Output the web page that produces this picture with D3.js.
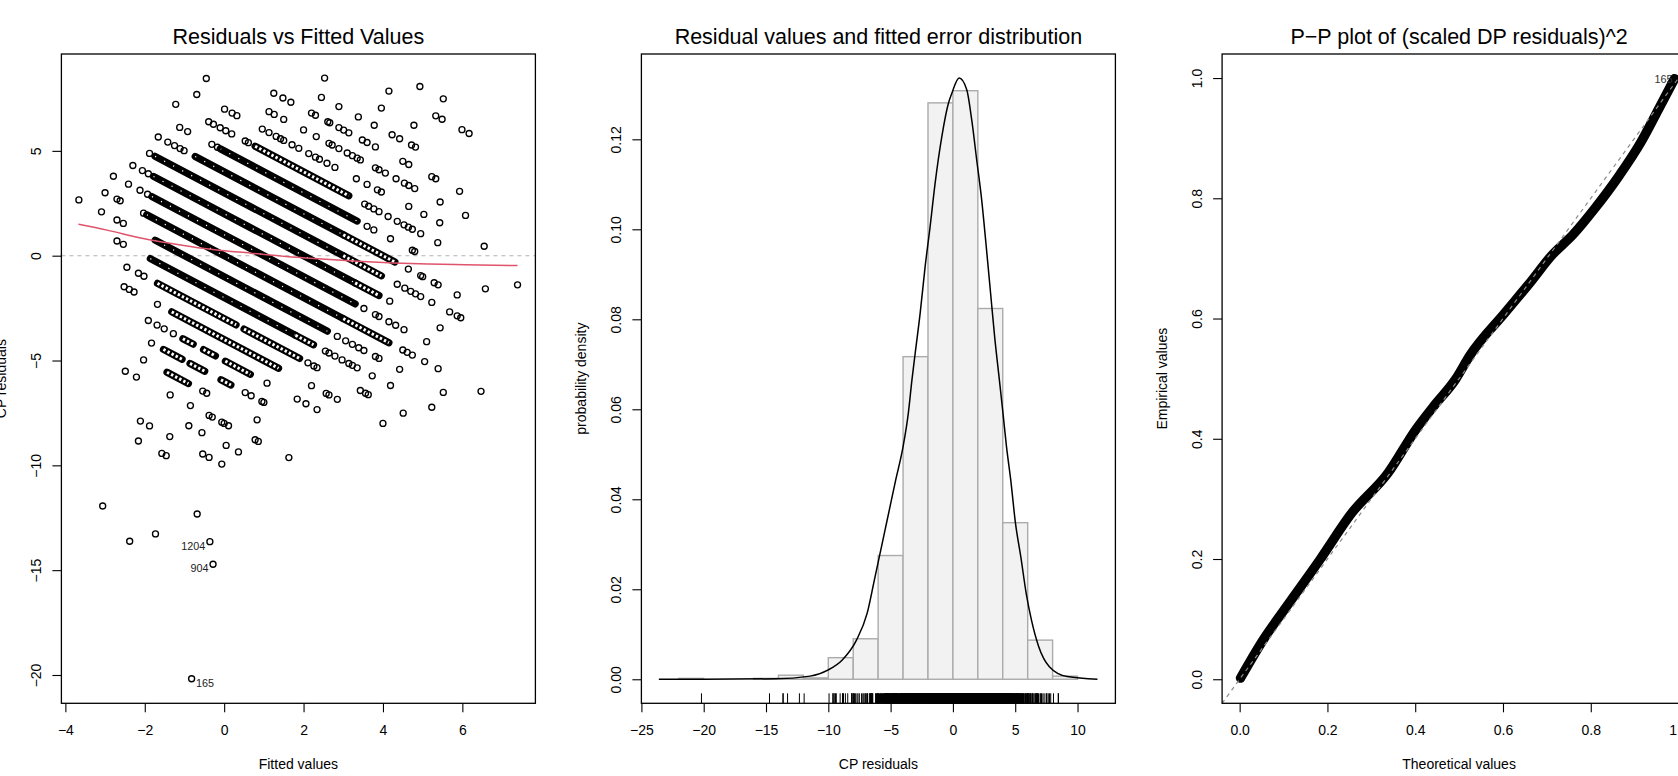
<!DOCTYPE html>
<html>
<head>
<meta charset="utf-8">
<script src="https://cdn.jsdelivr.net/npm/d3@7"></script>
<style>
body { margin: 0; background: #fff; }
svg { display: block; font-family: "Liberation Sans", Arial, sans-serif; }
</style>
</head>
<body>
<svg id="fig" width="1678" height="776"></svg>
<script>
// ---------- panel 1 : residuals vs fitted ----------
// every stripe is one observed CP value; a point sits at (fitted, observed - fitted)
const stripeObs = [13, 12, 11, 10, 9, 8, 7, 6, 5, 4, 3, 2, 1, 0, -1, -2, -3, -4, -5, -6, -7, -8, -9, -10, -11, -13, -14, -15, -16, -21];
const stripeFitted = [
    [4.93, 5.52],
    [4.15, 5.33, 5.49, 5.99, 6.17],
    [2.53, 3.96, 4.78],
    [2.45, 2.89, 3.38, 3.78, 4.23, 4.42, 4.72, 4.82],
    [1.25, 1.48, 1.68, 2.20, 2.30, 2.61, 2.66, 2.89, 3.01, 3.14, 3.48, 3.60, 3.81, 4.50, 4.65, 5.23, 5.33, 5.93],
    [-0.45, 1.13, 1.26, 1.50, 2.00, 2.32, 2.64, 2.72, 2.89, 3.10, 3.23, 3.35, 3.43, 3.81, 3.90, 4.06, 4.33, 4.54, 4.65, 4.80, 5.44, 6.08],
    [-0.69, 0.01, 0.20, 0.32, 0.96, 1.13, 1.31, 1.42, 1.50, 1.71, 1.88, 2.13, 2.30, 2.40, 2.59, 2.79, 3.33, 3.60, 3.86, 3.96, 4.65, 5.03, 5.43, 6.55],
    [-1.22, -0.39, -0.27, -0.10, 0.04, 0.19, 0.53, 0.61, 3.54, 3.64, 3.77, 3.90, 4.13, 4.36, 4.53, 4.64, 4.74, 4.95, 5.38, 7.39],
    [-1.12, -0.92, -0.31, -0.17, 3.60, 3.77, 4.19, 4.74, 4.80, 6.58],
    [-1.66, -1.42, -1.25, -1.11, -1.01, 4.64, 4.95, 5.00, 5.29, 5.39, 5.87],
    [-1.88, 4.36, 4.55, 4.70, 4.82, 4.95, 5.23, 5.68, 5.87, 5.96],
    [-2.30, -2.06, -1.91, 4.17, 5.44],
    [-2.79, -2.41, -2.12, -1.93, 3.52, 3.81, 3.90, 4.15, 4.32, 4.53, 5.10],
    [-3.00, -2.70, -2.62, -2.03, 4.50, 4.61, 4.74, 5.05, 5.39, 6.47],
    [-3.66, -3.09, -2.70, -2.54, 2.85, 3.06, 3.23, 3.39, 3.52, 3.81, 3.90, 4.42, 5.52],
    [-2.70, -2.54, 2.55, 2.64, 2.79, 2.97, 3.14, 3.23, 3.35, 3.73, 4.19, 5.23],
    [-2.45, -2.16, -2.02, 2.11, 2.26, 2.34, 3.43, 3.56, 3.63, 4.51],
    [-2.52, -2.39, -2.27, -1.68, 2.20, 2.57, 2.64, 2.85, 4.00],
    [-1.91, -1.69, -1.51, -1.28, 1.08, 1.84, 2.06, 2.34],
    [-1.83, 0.53, 0.68, 0.95, 1.00],
    [-2.03, -0.54, -0.44, 0.83],
    [-2.49, -2.21, -1.36, -0.85, -0.38, -0.30, -0.06, 0.00, 0.11, 0.78, 0.86, 1.63],
    [-0.89, -0.56, 0.05, 0.36],
    [-2.11, -1.88, -1.37, -0.54, -0.38, -0.06],
    [-2.16, -1.57, -1.46],
    [-0.68],
    [-0.36],
    [-3.06, -1.73, -0.28],
    [-2.38],
    [-0.82]
];
// stretches of a stripe so crowded that the circles merge (solid) or form chains
const runObs   = [6, 5, 4, 4, 3, 3, 2, 2, 1, 0, 0, -1, -2, -2, -3, -3, -4, -5, -5, -5, -6, -6, -6, -7];
const runFrom  = [0.78, -0.10, -0.73, 3.00, -1.74, 3.00, -1.78, 3.30, -1.82, -1.95, 3.00, -1.74, -1.86, 1.80, -1.68, 0.50, -1.32, -1.04, -0.52, 0.03, -1.53, -0.86, -0.08, -1.44];
const runTo    = [3.14, 3.35, 3.00, 4.30, 3.00, 3.96, 3.30, 3.90, 3.30, 3.00, 4.15, 2.60, 1.80, 2.25, 0.30, 1.90, 1.37, -0.78, -0.22, 0.66, -1.06, -0.49, 0.17, -0.90];
const runSolid = [false, true, true, false, true, false, true, false, true, true, false, true, true, false, false, false, false, false, false, false, false, false, false, false];

// lowess smooth
const smoothFitted = [-3.67, -2.95, -2.04, -1.14, -0.24, 0.66, 1.56, 2.46, 3.36, 4.26, 5.16, 6.07, 7.39];
const smoothResid  = [1.50, 1.22, 0.82, 0.52, 0.28, 0.12, -0.04, -0.16, -0.27, -0.35, -0.40, -0.43, -0.47];

// labelled outliers
const outlierLabel  = ['1204', '904', '165'];
const outlierObs    = [-14, -15, -21];
const outlierFitted = [-0.36, -0.28, -0.82];

// ---------- panel 2 : histogram + fitted density ----------
const binLow  = [-22, -20, -18, -16, -14, -12, -10, -8, -6, -4, -2, 0, 2, 4, 6, 8];
const binDens = [0.0002, 0, 0, 0.0002, 0.0009, 0.0003, 0.0048, 0.0090, 0.0275, 0.0717, 0.1281, 0.1308, 0.0824, 0.0348, 0.0087, 0.0007];
const curveX = [-23.6, -14.3, -11.46, -10.0, -8.88, -7.74, -6.88, -6.30, -5.73, -5.16, -4.59, -4.0, -3.58, -3.29, -3.03, -2.63, -2.23, -1.83, -1.43, -0.89, -0.36, -0.09, 0.5, 1.11, 1.51, 1.91, 2.31, 2.65, 3.0, 3.35, 3.73, 4.02, 4.3, 4.64, 5.02, 5.45, 5.88, 6.30, 6.88, 7.74, 9.17, 11.6];
const curveY = [0, 0.0001, 0.0007, 0.0021, 0.0043, 0.0087, 0.0147, 0.0221, 0.0295, 0.0369, 0.0443, 0.0517, 0.0591, 0.0665, 0.0724, 0.0813, 0.0917, 0.1006, 0.1102, 0.1206, 0.1280, 0.1302, 0.1336, 0.1310, 0.1243, 0.1154, 0.1065, 0.0969, 0.0865, 0.0761, 0.0665, 0.0591, 0.0517, 0.0443, 0.0347, 0.0272, 0.0191, 0.0132, 0.0073, 0.0028, 0.0006, 0];

// ---------- panel 3 : P-P plot ----------
const ppTheo = [0.002, 0.054, 0.102, 0.183, 0.256, 0.338, 0.402, 0.443, 0.492, 0.524, 0.605, 0.662, 0.711, 0.760, 0.808, 0.865, 0.914, 0.955, 0.991];
const ppEmp  = [0.002, 0.066, 0.116, 0.199, 0.277, 0.343, 0.416, 0.455, 0.499, 0.538, 0.610, 0.660, 0.705, 0.740, 0.782, 0.838, 0.893, 0.949, 0.999];

// ---------- layout ----------
const plotTop = 54, plotBottom = 703.3, plotW = 474;
const lefts = [61.4, 641.4, 1222.1];
const minus = v => String(v).replace('-', '\u2212');

const svg = d3.select('#fig');

function makePanel(i, xdom, ydom, cfg) {
    const left = lefts[i];
    const x = d3.scaleLinear().domain(xdom).range([left, left + plotW]);
    const y = d3.scaleLinear().domain(ydom).range([plotBottom, plotTop]);
    const g = svg.append('g');
    const data = g.append('g');
    const frame = g.append('g');

    const xaxis = d3.axisBottom(x)
        .tickValues(cfg.xticks)
        .tickSize(9)
        .tickPadding(12.7)
        .tickFormat(cfg.xfmt);
    const xg = frame.append('g')
        .attr('transform', `translate(0, ${plotBottom})`)
        .call(xaxis);
    const yaxis = d3.axisLeft(y)
        .tickValues(cfg.yticks)
        .tickSize(9)
        .tickFormat(cfg.yfmt);
    const yg = frame.append('g')
        .attr('transform', `translate(${left}, 0)`)
        .call(yaxis);
    [xg, yg].forEach(a => {
        a.attr('font-size', 14).attr('font-family', null);
        a.select('.domain').remove();
        a.selectAll('line').attr('stroke', '#000').attr('stroke-width', 1.1);
        a.selectAll('text').attr('fill', '#000');
    });
    yg.selectAll('text')
        .attr('transform', 'rotate(-90)')
        .attr('x', 0)
        .attr('y', -25)
        .attr('dy', '0.35em')
        .attr('text-anchor', 'middle');

    frame.append('rect')
        .attr('x', left).attr('y', plotTop)
        .attr('width', plotW).attr('height', plotBottom - plotTop)
        .attr('fill', 'none').attr('stroke', '#000').attr('stroke-width', 1.3);

    frame.append('text')
        .attr('x', left + plotW / 2).attr('y', 43.5)
        .attr('text-anchor', 'middle')
        .style('font-size', '21.5px')
        .text(cfg.title);
    frame.append('text')
        .attr('x', left + plotW / 2).attr('y', 769)
        .attr('text-anchor', 'middle')
        .style('font-size', '14px')
        .text(cfg.xlab);
    frame.append('text')
        .attr('transform', `translate(${left - 60}, ${(plotTop + plotBottom) / 2}) rotate(-90)`)
        .attr('dy', '0.35em')
        .attr('text-anchor', 'middle')
        .style('font-size', '14px')
        .text(cfg.ylab);
    return { data, x, y };
}

// ---------- panel 1 ----------
const p1 = makePanel(0, [-4.10, 7.84], [-21.35, 9.62], {
    title: 'Residuals vs Fitted Values',
    xlab: 'Fitted values',
    ylab: 'CP residuals',
    xticks: [-4, -2, 0, 2, 4, 6],
    yticks: [-20, -15, -10, -5, 0, 5],
    xfmt: minus, yfmt: minus
});

p1.data.append('line')
    .attr('x1', lefts[0]).attr('x2', lefts[0] + plotW)
    .attr('y1', p1.y(0)).attr('y2', p1.y(0))
    .attr('stroke', '#b3b3b3').attr('stroke-width', 1.1)
    .attr('stroke-dasharray', '4,4');

const points1 = [];
stripeObs.forEach((k, i) => {
    stripeFitted[i].forEach(f => points1.push({ f: f, r: k - f }));
});
const runs1 = runObs.map((k, i) => ({ k: k, f0: runFrom[i], f1: runTo[i], solid: runSolid[i] }));

p1.data.selectAll('line.run')
    .data(runs1)
    .join('line')
    .attr('class', 'run')
    .attr('x1', d => p1.x(d.f0)).attr('y1', d => p1.y(d.k - d.f0))
    .attr('x2', d => p1.x(d.f1)).attr('y2', d => p1.y(d.k - d.f1))
    .attr('stroke', '#000').attr('stroke-width', 7.2)
    .attr('stroke-linecap', 'round');
// ring texture for the chains of overlapping circles
p1.data.selectAll('line.hole')
    .data(runs1)
    .join('line')
    .attr('class', 'hole')
    .attr('x1', d => p1.x(d.f0)).attr('y1', d => p1.y(d.k - d.f0))
    .attr('x2', d => p1.x(d.f1)).attr('y2', d => p1.y(d.k - d.f1))
    .attr('stroke', '#fff')
    .attr('stroke-width', d => d.solid ? 1.2 : 3.0)
    .attr('stroke-dasharray', d => d.solid ? '1.2,9' : '2.4,2.2');

p1.data.selectAll('circle')
    .data(points1)
    .join('circle')
    .attr('cx', d => p1.x(d.f))
    .attr('cy', d => p1.y(d.r))
    .attr('r', 3.0)
    .attr('fill', 'none')
    .attr('stroke', '#000')
    .attr('stroke-width', 1.35);

p1.data.append('path')
    .datum(smoothFitted.map((f, i) => [f, smoothResid[i]]))
    .attr('d', d3.line().x(d => p1.x(d[0])).y(d => p1.y(d[1])).curve(d3.curveMonotoneX))
    .attr('fill', 'none')
    .attr('stroke', '#DF536B')
    .attr('stroke-width', 1.5);

outlierLabel.forEach((t, i) => {
    const f = outlierFitted[i], r = outlierObs[i] - f;
    const right = t === '165';
    p1.data.append('text')
        .attr('x', p1.x(f) + (right ? 4.5 : -4.5))
        .attr('y', p1.y(r) + 8)
        .attr('text-anchor', right ? 'start' : 'end')
        .style('font-size', '10.8px')
        .attr('fill', '#222')
        .text(t);
});

// ---------- panel 2 ----------
const p2 = makePanel(1, [-25.0, 13.04], [-0.00534, 0.13896], {
    title: 'Residual values and fitted error distribution',
    xlab: 'CP residuals',
    ylab: 'probability density',
    xticks: [-25, -20, -15, -10, -5, 0, 5, 10],
    yticks: [0, 0.02, 0.04, 0.06, 0.08, 0.10, 0.12],
    xfmt: minus, yfmt: d3.format('.2f')
});

p2.data.selectAll('rect')
    .data(binLow.map((b, i) => ({ lo: b, hi: b + 2, d: binDens[i] })))
    .join('rect')
    .attr('x', d => p2.x(d.lo))
    .attr('width', d => p2.x(d.hi) - p2.x(d.lo))
    .attr('y', d => p2.y(d.d))
    .attr('height', d => p2.y(0) - p2.y(d.d))
    .attr('fill', '#f2f2f2')
    .attr('stroke', '#ababab')
    .attr('stroke-width', 1.4);

p2.data.append('path')
    .datum(curveX.map((v, i) => [v, curveY[i]]))
    .attr('d', d3.line().x(d => p2.x(d[0])).y(d => p2.y(d[1])).curve(d3.curveMonotoneX))
    .attr('fill', 'none')
    .attr('stroke', '#000')
    .attr('stroke-width', 1.5);

// rug of the residuals (single points as ticks, crowded stretches as blocks)
const rugTop = plotBottom - 10;
p2.data.selectAll('line.rug')
    .data(points1)
    .join('line')
    .attr('class', 'rug')
    .attr('x1', d => p2.x(d.r)).attr('x2', d => p2.x(d.r))
    .attr('y1', rugTop).attr('y2', plotBottom)
    .attr('stroke', '#000').attr('stroke-width', 1);
p2.data.selectAll('rect.rugrun')
    .data(runs1)
    .join('rect')
    .attr('class', 'rugrun')
    .attr('x', d => p2.x(d.k - d.f1))
    .attr('width', d => p2.x(d.k - d.f0) - p2.x(d.k - d.f1))
    .attr('y', rugTop).attr('height', plotBottom - rugTop)
    .attr('fill', '#000');

// ---------- panel 3 ----------
const p3 = makePanel(2, [-0.04, 1.04], [-0.04, 1.04], {
    title: 'P\u2212P plot of (scaled DP residuals)^2',
    xlab: 'Theoretical values',
    ylab: 'Empirical values',
    xticks: [0, 0.2, 0.4, 0.6, 0.8, 1.0],
    yticks: [0, 0.2, 0.4, 0.6, 0.8, 1.0],
    xfmt: d3.format('.1f'), yfmt: d3.format('.1f')
});

p3.data.append('path')
    .datum(ppTheo.map((t, i) => [t, ppEmp[i]]))
    .attr('d', d3.line().x(d => p3.x(d[0])).y(d => p3.y(d[1])).curve(d3.curveMonotoneX))
    .attr('fill', 'none')
    .attr('stroke', '#000')
    .attr('stroke-width', 9.5)
    .attr('stroke-linecap', 'round')
    .attr('stroke-linejoin', 'round');

p3.data.append('line')
    .attr('x1', p3.x(-0.04)).attr('y1', p3.y(-0.04))
    .attr('x2', p3.x(1.04)).attr('y2', p3.y(1.04))
    .attr('stroke', '#8c8c8c').attr('stroke-width', 1.2)
    .attr('stroke-dasharray', '4,4');

p3.data.append('text')
    .attr('x', p3.x(ppTheo[ppTheo.length - 1]) - 2)
    .attr('y', p3.y(ppEmp[ppEmp.length - 1]) + 4)
    .attr('text-anchor', 'end')
    .style('font-size', '10.8px')
    .attr('fill', '#333')
    .text('165');
</script>
</body>
</html>
